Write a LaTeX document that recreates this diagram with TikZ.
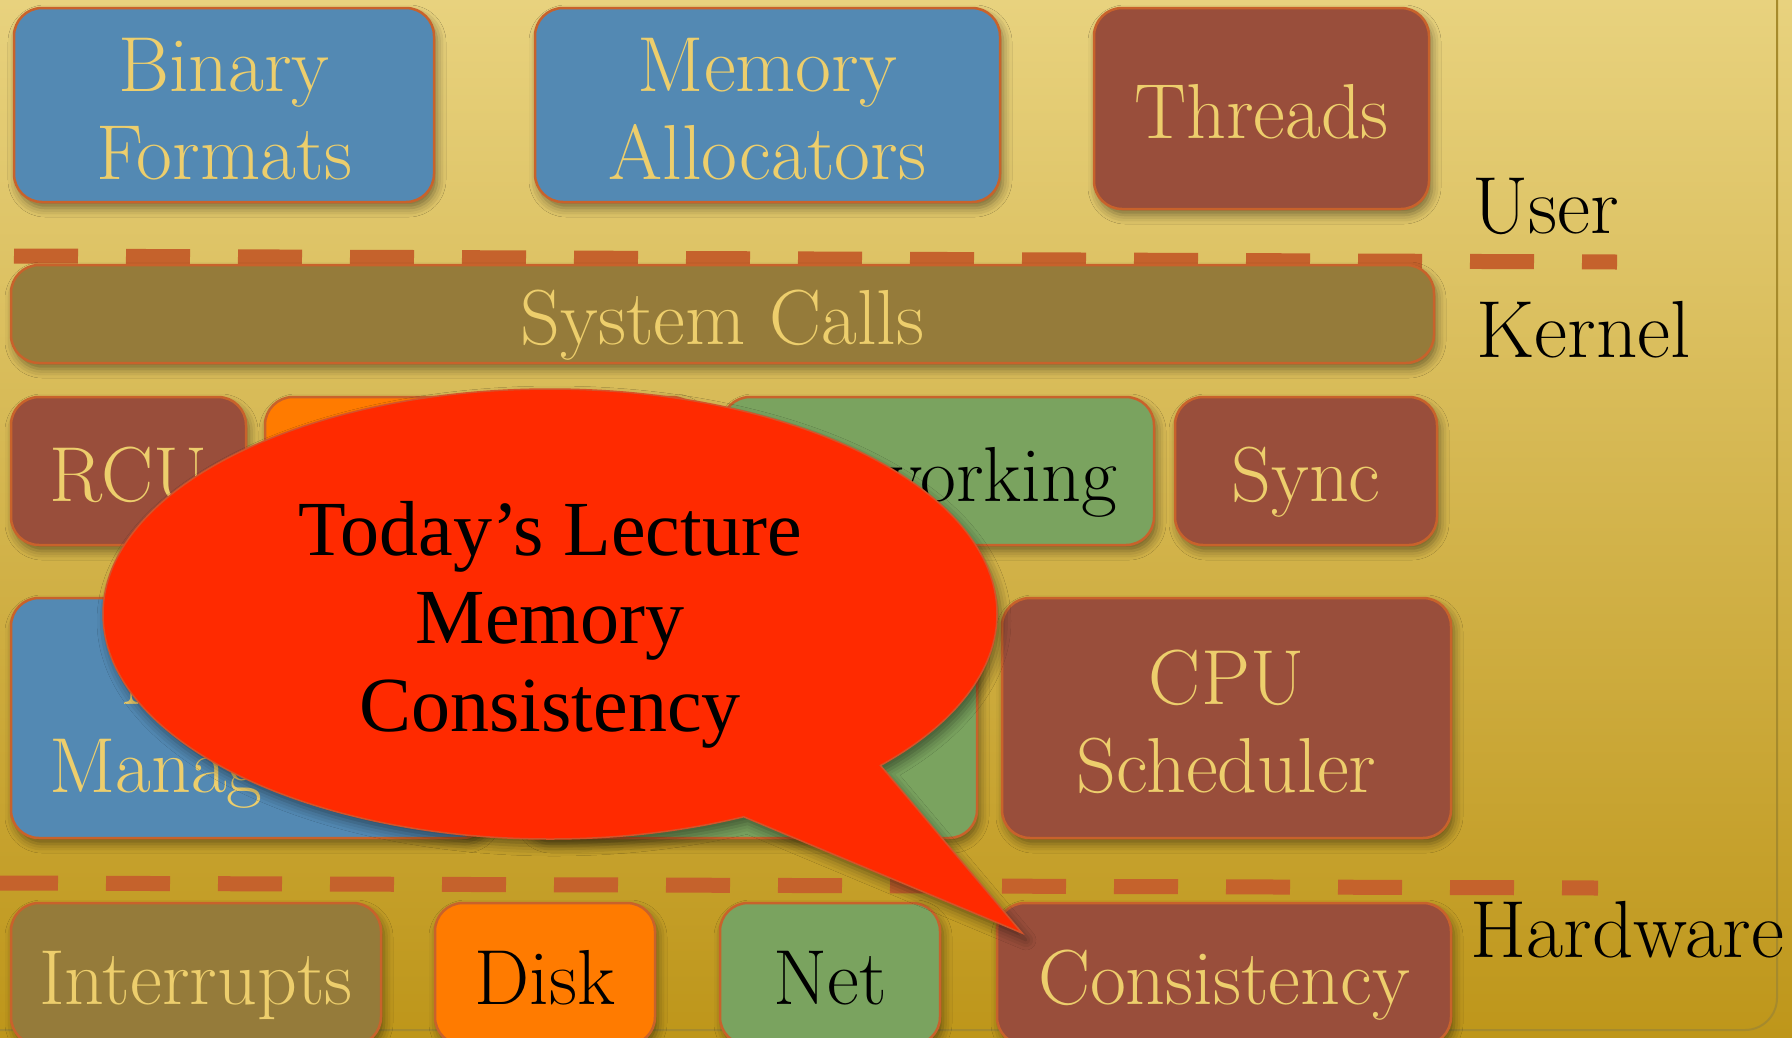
\documentclass[tikz,border=0pt]{standalone}
\usepackage{fontspec}
\usepackage{tikz}
\usetikzlibrary{
    shapes.callouts,
    shadows.blur
}
\newfontfamily\bubblefont{Liberation Serif}
\definecolor{SlideTop}{HTML}{E8D27E}
\definecolor{SlideBottom}{HTML}{BE961A}
\definecolor{FrameLine}{HTML}{A68A2C}
\definecolor{TileEdge}{HTML}{C8622B}
\definecolor{TileText}{HTML}{EDCE6C}
\definecolor{TileBlue}{HTML}{5389B3}
\definecolor{TileOlive}{HTML}{957B3A}
\definecolor{TileBrown}{HTML}{994E3B}
\definecolor{TileOrange}{HTML}{FF7B00}
\definecolor{TileGreen}{HTML}{7AA35F}
\definecolor{LayerDash}{HTML}{C5622C}
\definecolor{BubbleRed}{HTML}{FF2A00}
\definecolor{BubbleEdge}{HTML}{D4532A}
\tikzset{
    tile/.style={
        rectangle,
        rounded corners=28pt,
        draw=TileEdge,
        line width=2.5pt,
        inner sep=0pt,
        align=center,
        text=TileText,
        font=\fontsize{78}{88}\selectfont,
        text height=60pt,
        text depth=0pt,
        blur shadow={shadow xshift=3pt, shadow yshift=-6pt, shadow blur radius=9pt, shadow opacity=45},
    },
    twoline/.style={
        text height=148pt,
    },
    bluetile/.style={tile, fill=TileBlue},
    olivetile/.style={tile, fill=TileOlive},
    browntile/.style={tile, fill=TileBrown},
    orangetile/.style={tile, fill=TileOrange, text=black},
    greentile/.style={tile, fill=TileGreen, text=black},
    layer/.style={
        inner sep=0pt,
        anchor=base west,
        font=\fontsize{81}{88}\selectfont,
    },
    layerline/.style={
        draw=LayerDash,
        line width=15pt,
        dash pattern=on 64pt off 48pt,
    },
}

\begin{document}
\begin{tikzpicture}[x=1pt, y=-1pt]
    \useasboundingbox (0,0) rectangle (1792,1037);
    \clip (0,0) rectangle (1792,1037);

    % backdrop
    \fill[top color=SlideTop, bottom color=SlideBottom] (0,0) rectangle (1792,1037);
    \draw[FrameLine, line width=2pt, rounded corners=32pt] (-40,-40) rectangle (1777,1030);

    % user space
    \node[bluetile, twoline, minimum width=420pt, minimum height=194pt] (binfmt) at (224,105) {Binary\\Formats};
    \node[bluetile, twoline, minimum width=465pt, minimum height=194pt] (memalloc) at (767.5,105) {Memory\\Allocators};
    \node[browntile, minimum width=335pt, minimum height=201pt] (threads) at (1261.5,108.5) {Threads};

    \node[layer] (user) at (1472,233) {User};
    \node[layer] (kernel) at (1476,357) {Kernel};
    \node[layer] (hardware) at (1470,957) {Hardware};

    \coordinate (ukleft) at (14,256);
    \coordinate (ukright) at (1617,262);
    \coordinate (khleft) at (-6,883);
    \coordinate (khright) at (1598,888);
    \draw[layerline] (ukleft) -- (ukright);
    \draw[layerline] (khleft) -- (khright);

    % kernel
    \node[olivetile, minimum width=1423pt, minimum height=98pt] (syscalls) at (722.5,314) {System Calls};

    \node[browntile, minimum width=235pt, minimum height=148pt] (rcu) at (128.5,471) {RCU};
    \node[orangetile, minimum width=435pt, minimum height=148pt] (filesys) at (482.5,471) {};
    \node[greentile, minimum width=432pt, minimum height=148pt] (networking) at (938,471) {Networking};
    \node[browntile, minimum width=262pt, minimum height=148pt] (sync) at (1306,471) {Sync};

    \node[bluetile, twoline, minimum width=479pt, minimum height=240pt] (memmgmt) at (250.5,718) {Memory\\Management};
    \node[greentile, minimum width=457pt, minimum height=240pt] (drivers) at (748.5,718) {};
    \node[browntile, twoline, minimum width=449pt, minimum height=240pt] (cpusched) at (1226.5,718) {CPU\\Scheduler};

    % hardware
    \node[olivetile, minimum width=370pt, minimum height=142pt] (interrupts) at (196,974) {Interrupts};
    \node[orangetile, minimum width=220pt, minimum height=142pt] (disk) at (545,974) {Disk};
    \node[greentile, minimum width=220pt, minimum height=142pt] (net) at (830,974) {Net};
    \node[browntile, minimum width=454pt, minimum height=142pt] (consistency) at (1224,974) {Consistency};

    % speech bubble on top
    \coordinate (tip) at (1022,933);
    \node[ellipse callout,
        fill=BubbleRed,
        draw=BubbleEdge,
        line width=1.5pt,
        minimum width=894pt,
        minimum height=450pt,
        inner sep=0pt,
        callout absolute pointer={(tip)},
        callout pointer arc=22,
        align=center,
        font=\bubblefont\fontsize{78}{88}\selectfont,
        text height=234pt,
        text depth=0pt,
        blur shadow={shadow xshift=4pt, shadow yshift=-7pt, shadow blur radius=10pt, shadow opacity=45},
    ] (lecture) at (550,614) {Today’s Lecture\\Memory\\Consistency};
\end{tikzpicture}
\end{document}
